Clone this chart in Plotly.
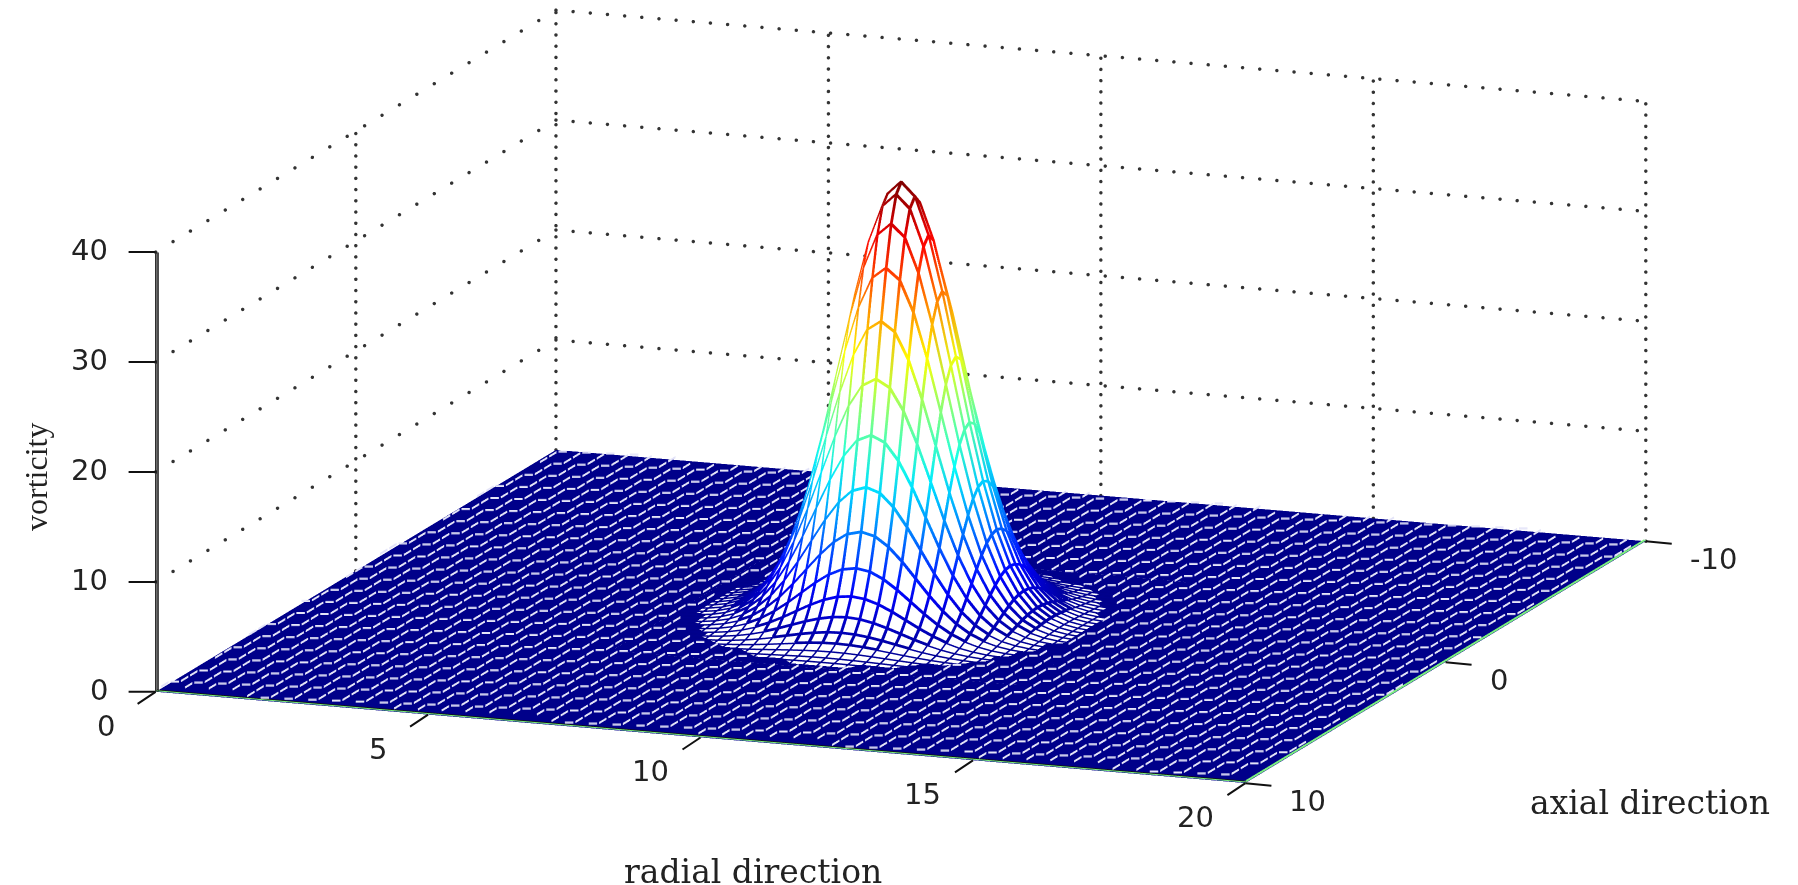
import numpy as np
import plotly.graph_objects as go

# values
radial_ticks = [0, 5, 10, 15, 20]
axial_ticks = [10, 0, -10]
vorticity_ticks = [0, 10, 20, 30, 40]
peak_vorticity = 39.4
grid_step = 0.25
# fraction of the peak at 0, 0.25, 0.5 ... units from the centre, read from the arcs and the silhouette
radial_fraction = [1, .969, .882, .755, .607, .458, .325, .216, .135, .080, .044, .023, .011, .005, .002]
axial_fraction = [1, .978, .917, .822, .706, .580, .457, .344, .248, .171, .113, .072, .043, .025, .014, .007, .004]

r = np.arange(0, 20 + grid_step / 2, grid_step)
a = np.arange(-10, 10 + grid_step / 2, grid_step)   # plotted axis: -10 is the near edge, labelled 10


def lookup(offsets, table):
    idx = np.rint(np.abs(offsets) / grid_step).astype(int)
    out = np.zeros_like(offsets, dtype=float)
    ok = idx < len(table)
    out[ok] = np.asarray(table)[idx[ok]]
    return out


Z = peak_vorticity * np.outer(lookup(a, axial_fraction), lookup(r - 10, radial_fraction))

NAVY = "#00008A"
jet = [[0, NAVY], [.125, "#0000FF"], [.375, "#00FFFF"], [.625, "#FFFF00"], [.875, "#FF0000"], [1, "#800000"]]

# the faces: white where the mesh opens up on the bump, navy where the picture's lines merge into a solid plate
fig = go.Figure()
fig.add_trace(go.Surface(x=r, y=a, z=Z, surfacecolor=(Z > .12).astype(float), cmin=0, cmax=1,
                         colorscale=[[0, NAVY], [.5, NAVY], [.5, "white"], [1, "white"]],
                         showscale=False, hoverinfo="skip",
                         lighting=dict(ambient=1, diffuse=0, specular=0, fresnel=0, roughness=1)))

# the mesh lines over the bump, in slightly shifted copies because WebGL lines are one pixel wide;
# low on the bump a single copy is used so that the white cells stay open
ri = np.where(np.abs(r - 10) <= 4.5)[0]
ai = np.where(np.abs(a) <= 5)[0]
xs, ys, zs, cs = [], [], [], []


def add_line(lx, ly, lz, first):
    for px, py, pz in zip(lx, ly, lz):
        if first or pz >= .8:
            xs.append(px); ys.append(py); zs.append(pz); cs.append(pz)
        else:
            xs.append(None); ys.append(None); zs.append(None); cs.append(0)
    xs.append(None); ys.append(None); zs.append(None); cs.append(0)


lift = [(0, 0), (.02, 0), (0, .1), (.02, .1)]
for n, (dx, dz) in enumerate(lift):
    for j in ai:
        add_line(r[ri] + dx, [a[j]] * len(ri), Z[j, ri] + .08 + dz, n == 0)
    for i in ri:
        add_line([r[i] + dx] * len(ai), a[ai], Z[ai, i] + .08 + dz, n == 0)
fig.add_trace(go.Scatter3d(x=xs, y=ys, z=zs, mode="lines", hoverinfo="skip", showlegend=False,
                           line=dict(color=cs, colorscale=jet, cmin=0, cmax=peak_vorticity, width=3)))

# the pale zigzag streaks the low resolution raster left across the plate
sx, sy, sz = [], [], []


def dash(p, q):
    p, q = np.array(p), np.array(q)
    a0, b0 = p + .1 * (q - p), p + .9 * (q - p)
    for v in (a0, b0):
        if not (0 <= v[0] <= 20 and -10 <= v[1] <= 10):
            return
    mid = (a0 + b0) / 2
    for v in (a0, mid, b0):
        i, j = int(round(v[0] / grid_step)), int(round((v[1] + 10) / grid_step))
        if Z[j, i] > .08:
            return
    for dz in (.22, .32):
        sx.extend([a0[0], b0[0], None]); sy.extend([a0[1], b0[1], None]); sz.extend([dz, dz, None])


flat = np.array([.17, .065])
rise = np.array([0, .917])
row = np.array([-.24, .909])
for k in range(-45, 46):
    for n in range(-45, 46):
        p = np.array([10.0, 0.0]) + k * row + n * (flat + rise)
        q = p + flat
        m = q + rise / 2
        dash(p, q)
        dash(q, m)
        dash(m, q + rise)
fig.add_trace(go.Scatter3d(x=sx, y=sy, z=sz, mode="lines", hoverinfo="skip", showlegend=False,
                           line=dict(color="#E4E4F8", width=2)))

# dotted grid on the two back walls, drawn as small dots
gx, gy, gz = [], [], []
for zv in vorticity_ticks[1:]:
    for v in np.arange(-10, 10.01, .87):
        gx.append(0); gy.append(v); gz.append(zv)
    for v in np.arange(0, 20.01, .315):
        gx.append(v); gy.append(10); gz.append(zv)
for rv in radial_ticks:
    for v in np.arange(0, 40.01, 1.02):
        gx.append(rv); gy.append(10); gz.append(v)
for v in np.arange(0, 40.01, 1.02):
    gx.append(0); gy.append(0); gz.append(v)
fig.add_trace(go.Scatter3d(x=gx, y=gy, z=gz, mode="markers", hoverinfo="skip", showlegend=False,
                           marker=dict(color="#333333", size=2, line=dict(width=0))))

# near edges and the vertical axis, thickened the same way
fig.add_trace(go.Scatter3d(x=[0, 0, None, .025, .025, None, .05, .05, None, 0, 20, None, 0, 20],
                           y=[-10, -10, None, -10, -10, None, -10, -10, None, -9.97, -9.97, None, -9.94, -9.94],
                           z=[0, 40, None, 0, 40, None, 0, 40, None, .1, .1, None, .1, .1],
                           mode="lines", hoverinfo="skip", showlegend=False, line=dict(color="#111111", width=2)))
fig.add_trace(go.Scatter3d(x=[0, 20, 20, None, 19.97, 19.97], y=[-10, -10, 10, None, -10, 10], z=[.1, .1, .1, None, .1, .1],
                           mode="lines", hoverinfo="skip", showlegend=False, line=dict(color="#7CF07C", width=2)))

tick_font = dict(family="DejaVu Sans", size=29, color="#222222")
ax = dict(showgrid=False, zeroline=False, showbackground=False, showspikes=False, ticks="",
          showticklabels=False, title=dict(text=""), showline=False)

labels = []
tick = dict(text=" ", showarrow=True, arrowhead=0, arrowwidth=2, arrowcolor="#111111", standoff=0)
for t in vorticity_ticks:
    labels.append(dict(x=0, y=-10, z=t, text=str(t), showarrow=False, xanchor="right", xshift=-46, yshift=2, font=tick_font))
    labels.append(dict(tick, x=0, y=-10, z=t, ax=-30, ay=0))
for t in radial_ticks:
    labels.append(dict(x=t, y=-10, z=0, text=str(t), showarrow=False, xshift=-50, yshift=-34, font=tick_font))
    labels.append(dict(tick, x=t, y=-10, z=0, ax=-21, ay=14))
for t in axial_ticks:
    labels.append(dict(x=20, y=-t, z=0, text=str(t), showarrow=False, xanchor="left", xshift=42, yshift=-18, font=tick_font))
    labels.append(dict(tick, x=20, y=-t, z=0, ax=29, ay=3))

view = np.array([.3399, -.9130, .2250]) * 2
c = dict(x=.0134, y=.005, z=-.125)
serif = dict(family="DejaVu Serif", size=33, color="#222222")
fig.update_layout(
    width=1798, height=885, margin=dict(l=0, r=0, t=0, b=0), paper_bgcolor="white", showlegend=False,
    scene=dict(
        domain=dict(x=[0, 1], y=[0, 1]),
        xaxis=dict(ax, range=[0, 20], tickvals=radial_ticks),
        yaxis=dict(ax, range=[-10, 10], tickvals=[-t for t in axial_ticks]),
        zaxis=dict(ax, range=[0, 40], tickvals=vorticity_ticks),
        aspectmode="manual", aspectratio=dict(x=2.628, y=2.593, z=1.02),
        camera=dict(projection=dict(type="orthographic"), up=dict(x=0, y=0, z=1), center=c,
                    eye=dict(x=view[0] + c["x"], y=view[1] + c["y"], z=view[2] + c["z"])),
        annotations=labels,
    ),
    annotations=[
        dict(text="vorticity", x=28 / 1798, y=1 - 469 / 885, xref="paper", yref="paper", showarrow=False, textangle=-90,
             xanchor="center", yanchor="middle", font=dict(family="Liberation Serif", size=32, color="#222222")),
        dict(text="radial direction", x=745 / 1798, y=1 - 863 / 885, xref="paper", yref="paper", showarrow=False,
             xanchor="center", yanchor="middle", font=serif),
        dict(text="axial direction", x=1642 / 1798, y=1 - 794 / 885, xref="paper", yref="paper", showarrow=False,
             xanchor="center", yanchor="middle", font=serif),
    ],
)
fig.write_html("out.html")
